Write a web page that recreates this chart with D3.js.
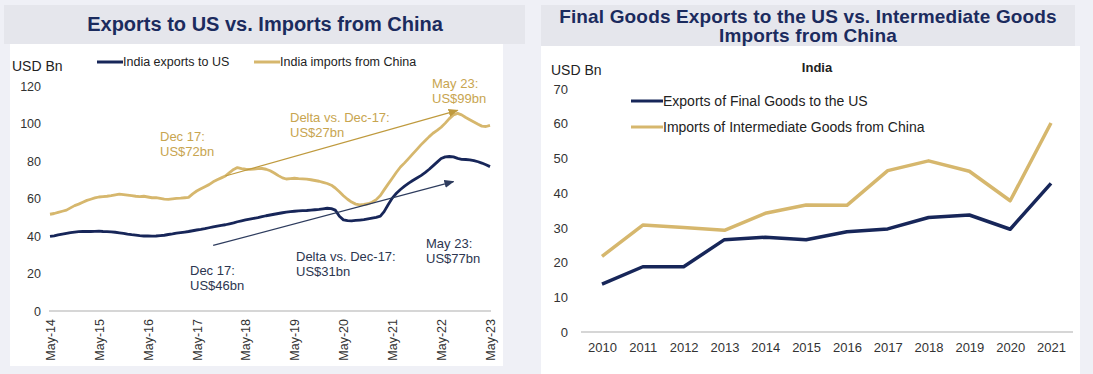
<!DOCTYPE html>
<html>
<head>
<meta charset="utf-8">
<script src="https://cdn.jsdelivr.net/npm/d3@7"></script>
<style>
  body { margin: 0; background: #eff0f6; }
  svg { display: block; font-family: "Liberation Sans", Arial, sans-serif; }
</style>
</head>
<body>
<svg id="chart" width="1093" height="374"></svg>
<script>
// ---- Left panel: monthly series, May-2014 to May-2023 (USD bn) ----
const firstMonth = new Date(2014, 4, 1);
const exportsToUS = [
  39.8, 40.1, 40.6, 41.0, 41.4, 41.8, 42.1, 42.3,
  42.4, 42.5, 42.4, 42.5, 42.6, 42.4, 42.3, 42.2, 42.0, 41.7, 41.4, 41.0,
  40.7, 40.5, 40.2, 40.0, 40.1, 39.9, 40.0, 40.2, 40.4, 40.8, 41.1, 41.5,
  41.8, 42.1, 42.4, 42.8, 43.2, 43.5, 43.9, 44.4, 44.9, 45.3, 45.7, 46.0,
  46.5, 47.0, 47.6, 48.1, 48.6, 49.0, 49.4, 49.8, 50.3, 50.8, 51.2, 51.6,
  52.0, 52.4, 52.7, 53.0, 53.2, 53.4, 53.5, 53.6, 53.8, 54.0, 54.2, 54.5,
  54.8, 54.6, 53.8, 50.5, 48.6, 48.2, 48.1, 48.3, 48.5, 48.7, 49.1, 49.5,
  49.9, 50.6, 53.0, 56.8, 60.2, 62.8, 64.8, 66.6, 68.2, 69.6, 70.9, 72.2,
  73.8, 75.6, 77.4, 79.4, 81.3, 82.2, 82.4, 82.2, 81.4, 80.9, 80.8, 80.6,
  80.2, 79.6, 78.9, 78.0, 77.0
];
const importsFromChina = [
  51.6, 52.0, 52.6, 53.2, 53.8, 55.0, 56.2, 57.0,
  58.0, 59.0, 59.6, 60.3, 60.8, 61.0, 61.2, 61.5, 61.9, 62.3, 62.1, 61.8,
  61.5, 61.2, 61.0, 61.2, 60.8, 60.4, 60.5, 60.1, 59.7, 59.5, 59.8, 60.1,
  60.2, 60.4, 60.6, 62.5, 64.0, 65.2, 66.3, 67.4, 68.9, 70.0, 71.0, 72.0,
  73.8, 75.5, 76.5, 75.9, 75.6, 75.5, 75.7, 75.9, 76.0, 75.6, 74.8, 73.6,
  72.2, 71.0, 70.4, 70.6, 70.8, 70.6, 70.5, 70.3, 70.0, 69.6, 69.2, 68.6,
  68.0, 67.1, 65.6, 63.6, 61.5, 59.6, 58.1, 57.0, 56.6, 56.8, 57.2, 58.0,
  59.4, 61.6, 64.6, 67.8, 70.8, 74.0, 76.8, 79.0, 81.4, 83.8, 86.2, 88.6,
  90.8, 93.0, 94.8, 96.3, 98.0, 100.2, 102.6, 104.6, 105.4, 104.6, 103.2, 102.0,
  100.8, 99.6, 98.6, 98.4, 99.0
];
const leftYTicks = [0, 20, 40, 60, 80, 100, 120];
const leftSeriesNames = ["India exports to US", "India imports from China"];

// ---- Right panel: annual series, 2010-2021 (USD bn) ----
const years = ["2010", "2011", "2012", "2013", "2014", "2015", "2016", "2017", "2018", "2019", "2020", "2021"];
const finalGoodsToUS = [13.8, 18.8, 18.8, 26.6, 27.3, 26.6, 28.9, 29.7, 33.0, 33.7, 29.6, 42.8];
const intermediateFromChina = [21.8, 30.8, 30.1, 29.3, 34.2, 36.6, 36.5, 46.5, 49.3, 46.3, 37.8, 60.2];
const rightYTicks = [0, 10, 20, 30, 40, 50, 60, 70];
const rightSeriesNames = ["Exports of Final Goods to the US", "Imports of Intermediate Goods from China"];

const NAVY = "#172659";
const GOLD = "#d6b76d";
const TITLE = "#1b2b5e";
const TICK = "#333333";
const FONT = "Liberation Sans, Arial, sans-serif";

const svg = d3.select("#chart");
const months = exportsToUS.map((_, i) => d3.timeMonth.offset(firstMonth, i));

// panel backgrounds
svg.append("rect").attr("x", 4).attr("y", 5).attr("width", 521).attr("height", 39).attr("fill", "#e5e6ec");
svg.append("rect").attr("x", 10).attr("y", 44).attr("width", 493).attr("height", 322).attr("fill", "#ffffff");
svg.append("rect").attr("x", 541).attr("y", 5).attr("width", 534).attr("height", 41).attr("fill", "#e5e6ec");
svg.append("rect").attr("x", 541).attr("y", 46).attr("width", 539).attr("height", 328).attr("fill", "#ffffff");

// arrow heads
const defs = svg.append("defs");
function arrowMarker(id, color) {
  defs.append("marker").attr("id", id)
    .attr("viewBox", "0 0 10 8").attr("refX", 9).attr("refY", 4)
    .attr("markerWidth", 10).attr("markerHeight", 8)
    .attr("markerUnits", "userSpaceOnUse").attr("orient", "auto")
    .append("path").attr("d", "M0,0 L10,4 L0,8 Z").attr("fill", color);
}
arrowMarker("arrowGold", "#bf9a3e");
arrowMarker("arrowNavy", "#2e3c5e");

// ================= LEFT PANEL =================
svg.append("text").attr("x", 265).attr("y", 31).attr("text-anchor", "middle")
  .attr("font-size", 20).attr("font-weight", "bold").attr("fill", TITLE)
  .text("Exports to US vs. Imports from China");

const xL = d3.scaleTime().domain([months[0], months[months.length - 1]]).range([50, 490]);
const yL = d3.scaleLinear().domain([0, 120]).range([311, 86]);

// y axis labels
const gyL = svg.append("g").attr("transform", "translate(41,0)")
  .call(d3.axisLeft(yL).tickValues(leftYTicks).tickSize(0).tickPadding(0));
gyL.select(".domain").remove();
gyL.selectAll("text").attr("font-size", 12.5).attr("fill", TICK).attr("font-family", FONT);

// x axis
const yearTicks = d3.range(0, months.length, 12).map(i => months[i]);
const gxL = svg.append("g").attr("transform", "translate(0,311)")
  .call(d3.axisBottom(xL).tickValues(yearTicks).tickFormat(d3.timeFormat("%b-%y")).tickSize(0).tickPadding(0));
gxL.select(".domain").attr("stroke", "#c9c9c9").attr("stroke-width", 1.5).attr("d", "M49,0H491");
gxL.selectAll("text")
  .attr("font-size", 12.5).attr("fill", TICK).attr("font-family", FONT)
  .attr("transform", "rotate(-90)").attr("text-anchor", "end")
  .attr("x", -8).attr("y", 0).attr("dy", "0.35em");

svg.append("text").attr("x", 12).attr("y", 71).attr("font-size", 14).attr("fill", "#222").text("USD Bn");

// legend
const legL = [{ name: leftSeriesNames[0], color: NAVY, x: 97 }, { name: leftSeriesNames[1], color: GOLD, x: 254 }];
legL.forEach(d => {
  svg.append("line").attr("x1", d.x).attr("x2", d.x + 26).attr("y1", 62).attr("y2", 62)
    .attr("stroke", d.color).attr("stroke-width", 3);
  svg.append("text").attr("x", d.x + 26).attr("y", 66).attr("font-size", 12.5).attr("fill", "#222").text(d.name);
});

const lineL = d3.line().x((d, i) => xL(months[i])).y(d => yL(d));
svg.append("path").datum(importsFromChina).attr("d", lineL)
  .attr("fill", "none").attr("stroke", GOLD).attr("stroke-width", 2.8).attr("stroke-linejoin", "round");
svg.append("path").datum(exportsToUS).attr("d", lineL)
  .attr("fill", "none").attr("stroke", NAVY).attr("stroke-width", 2.8).attr("stroke-linejoin", "round");

// trend arrows from Dec-17 levels
const iDec17 = 43, iLast = months.length - 1;
svg.append("line")
  .attr("x1", xL(months[iDec17])).attr("y1", yL(importsFromChina[iDec17]))
  .attr("x2", xL(months[100])).attr("y2", yL(107))
  .attr("stroke", "#bf9a3e").attr("stroke-width", 1.2).attr("marker-end", "url(#arrowGold)");
svg.append("line")
  .attr("x1", xL(months[40])).attr("y1", yL(35))
  .attr("x2", xL(months[99])).attr("y2", yL(69))
  .attr("stroke", "#2e3c5e").attr("stroke-width", 1.2).attr("marker-end", "url(#arrowNavy)");

// value call-outs
const fmt = v => `US$${Math.round(v)}bn`;
const GOLDTXT = "#c8a550", NAVYTXT = "#2c3650";
const callouts = [
  { lines: ["Dec 17:", fmt(importsFromChina[iDec17])], x: 160, y: 141, color: GOLDTXT },
  { lines: ["Delta vs. Dec-17:", fmt(importsFromChina[iLast] - importsFromChina[iDec17])], x: 290, y: 122, color: GOLDTXT },
  { lines: ["May 23:", fmt(importsFromChina[iLast])], x: 432, y: 88, color: GOLDTXT },
  { lines: ["Dec 17:", fmt(exportsToUS[iDec17])], x: 190, y: 275, color: NAVYTXT },
  { lines: ["Delta vs. Dec-17:", fmt(exportsToUS[iLast] - exportsToUS[iDec17])], x: 296, y: 261, color: NAVYTXT },
  { lines: ["May 23:", fmt(exportsToUS[iLast])], x: 426, y: 248, color: NAVYTXT }
];
callouts.forEach(c => {
  const t = svg.append("text").attr("x", c.x).attr("y", c.y).attr("font-size", 13).attr("fill", c.color);
  c.lines.forEach((l, k) => t.append("tspan").attr("x", c.x).attr("dy", k ? 14.5 : 0).text(l));
});

// ================= RIGHT PANEL =================
const titleR = svg.append("text").attr("x", 808).attr("text-anchor", "middle")
  .attr("font-size", 19).attr("font-weight", "bold").attr("fill", TITLE).attr("letter-spacing", 0.15);
titleR.append("tspan").attr("x", 808).attr("y", 22.5).text("Final Goods Exports to the US vs. Intermediate Goods");
titleR.append("tspan").attr("x", 808).attr("y", 41.5).text("Imports from China");

svg.append("text").attr("x", 551).attr("y", 75).attr("font-size", 14).attr("fill", "#222").text("USD Bn");
svg.append("text").attr("x", 817).attr("y", 72).attr("text-anchor", "middle")
  .attr("font-size", 13).attr("font-weight", "bold").attr("fill", "#222").text("India");

const xR = d3.scalePoint().domain(years).range([602, 1051]);
const yR = d3.scaleLinear().domain([0, 70]).range([332, 89]);

const gyR = svg.append("g").attr("transform", "translate(568,0)")
  .call(d3.axisLeft(yR).tickValues(rightYTicks).tickSize(0).tickPadding(0));
gyR.select(".domain").remove();
gyR.selectAll("text").attr("font-size", 13).attr("fill", TICK).attr("font-family", FONT);

const gxR = svg.append("g").attr("transform", "translate(0,332)")
  .call(d3.axisBottom(xR).tickSize(0).tickPadding(11));
gxR.select(".domain").attr("stroke", "#c9c9c9").attr("stroke-width", 1.5).attr("d", "M581,0H1073");
gxR.selectAll("text").attr("font-size", 13).attr("fill", TICK).attr("font-family", FONT);

const legR = [{ name: rightSeriesNames[0], color: NAVY, y: 101 }, { name: rightSeriesNames[1], color: GOLD, y: 127 }];
legR.forEach(d => {
  svg.append("line").attr("x1", 631).attr("x2", 663).attr("y1", d.y).attr("y2", d.y)
    .attr("stroke", d.color).attr("stroke-width", 3);
  svg.append("text").attr("x", 663).attr("y", d.y + 5).attr("font-size", 14).attr("fill", "#222").text(d.name);
});

const lineR = d3.line().x((d, i) => xR(years[i])).y(d => yR(d));
svg.append("path").datum(intermediateFromChina).attr("d", lineR)
  .attr("fill", "none").attr("stroke", GOLD).attr("stroke-width", 3.5).attr("stroke-linejoin", "round");
svg.append("path").datum(finalGoodsToUS).attr("d", lineR)
  .attr("fill", "none").attr("stroke", NAVY).attr("stroke-width", 3.5).attr("stroke-linejoin", "round");
</script>
</body>
</html>
